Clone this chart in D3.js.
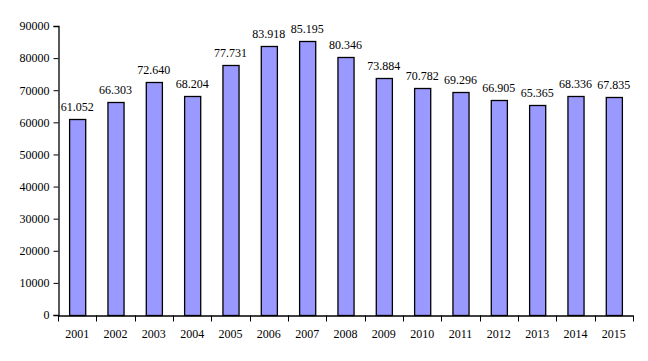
<!DOCTYPE html>
<html><head><meta charset="utf-8">
<script src="https://cdn.jsdelivr.net/npm/d3@7"></script>
<style>body{margin:0;background:#fff}svg{display:block}text{font-family:"Liberation Serif","Times New Roman",serif;font-size:12px;fill:#000}</style>
</head><body><svg id="c" width="648" height="361"></svg>
<script>
const years = ["2001","2002","2003","2004","2005","2006","2007","2008","2009","2010","2011","2012","2013","2014","2015"];
const values = [61052,66303,72640,68204,77731,83918,85195,80346,73884,70782,69296,66905,65365,68336,67835];
const labels = ["61.052","66.303","72.640","68.204","77.731","83.918","85.195","80.346","73.884","70.782","69.296","66.905","65.365","68.336","67.835"];
const yTicks = [0,10000,20000,30000,40000,50000,60000,70000,80000,90000];

const svg = d3.select("#c");
const L = 58, R = 633, T = 26, B = 315;
const x = d3.scaleBand().domain(years).range([L, R]).paddingInner(0).paddingOuter(0);
const y = d3.scaleLinear().domain([0, 90000]).range([B, T]);
const bw = x.bandwidth() * 0.42;

svg.selectAll("rect.bar").data(values).enter().append("rect")
  .attr("class","bar")
  .attr("x",(d,i)=>x(years[i]) + (x.bandwidth()-bw)/2 + 0.5)
  .attr("y",d=>Math.round(y(d))+0.5)
  .attr("width",bw)
  .attr("height",d=>B - Math.round(y(d)))
  .attr("fill","#9999FF").attr("stroke","#000").attr("stroke-width",1.3);

svg.selectAll("text.val").data(values).enter().append("text")
  .attr("class","val")
  .attr("x",(d,i)=>x(years[i]) + x.bandwidth()/2)
  .attr("y",d=>y(d)-8)
  .attr("text-anchor","middle")
  .text((d,i)=>labels[i]);

const yAxis = svg.append("g").attr("transform",`translate(${L+0.5},0)`)
  .call(d3.axisLeft(y).tickValues(yTicks).tickSize(5).tickPadding(4).tickFormat(d3.format("d")));
const xAxis = svg.append("g").attr("transform",`translate(0,${B+0.5})`)
  .call(d3.axisBottom(x).tickSize(0).tickPadding(14));
const bounds = years.map(d=>x(d)).concat([R]);
xAxis.selectAll("line.bt").data(bounds).enter().append("line").attr("class","bt")
  .attr("x1",d=>Math.round(d)+0.5).attr("x2",d=>Math.round(d)+0.5).attr("y1",0).attr("y2",6).attr("stroke","#000");
svg.selectAll(".domain").attr("stroke","#000").attr("stroke-width",1.3);
svg.selectAll(".tick line").attr("stroke","#000");
svg.selectAll(".tick text").style("font-family","'Liberation Serif',serif").style("font-size","12px").attr("fill","#000");
</script></body></html>
